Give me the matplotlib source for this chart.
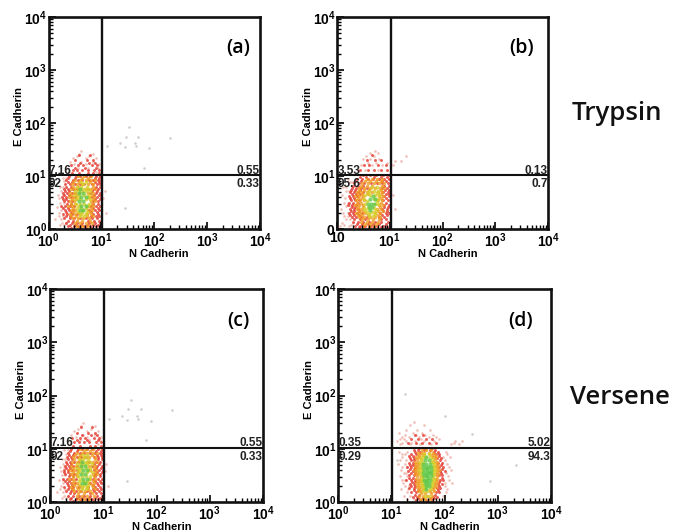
import numpy as np
import matplotlib
matplotlib.use('Agg')
import matplotlib.pyplot as plt

plt.rcParams['font.family'] = ['Liberation Sans', 'DejaVu Sans']
plt.rcParams['mathtext.fontset'] = 'custom'
plt.rcParams['mathtext.bf'] = 'Liberation Sans:bold'
plt.rcParams['mathtext.rm'] = 'Liberation Sans:bold'

# all events are log10(intensity), written as rows: (log E, [log N, ...])
AC_FRINGE = [
    (1.48, [.62]), (1.42, [.58, .84]), (1.34, [.46, .7, .9]), (1.26, [.4, .62, .84]),
    (1.16, [.34, .56, .74, .93]), (1.08, [.38, .9]), (.9, [.3, .99]), (.72, [.24, 1.06]),
    (.58, [.2, 1.03]), (.42, [.16, .25]), (.3, [.2, 1.08]), (.18, [.13, .24]), (.07, [.22, .3]),
    (1.37, [.53, .77]), (1.23, [.48, .7, .95]), (.97, [.27, .33]), (.8, [.22, .28]),
    (.65, [.18, .27]), (.5, [.22, .29]), (.35, [.24, 1.0]), (.24, [.19, .28]), (.12, [.26, .33]),
]
AC_RED = [
    (1.4, [.58, .78]), (1.3, [.5, .72, .84]), (1.2, [.42, .56, .66, .82, .92]),
    (1.12, [.46, .54, .64, .74, .86, .95]), (1.0, [.39, .52, .6, .7, .78, .9, .98]),
    (.92, [.34, .46, .56, .64, .76, .84, .94, .99]), (.84, [.32, .4, .5, .59, .68, .82, .91, .98]),
    (.76, [.3, .37, .46, .54, .74, .86, .94]), (.68, [.28, .35, .44, .51, .79, .89, .97]),
    (.6, [.26, .34, .42, .5, .82, .92, 1.0]), (.52, [.29, .37, .45, .84, .94]),
    (.44, [.24, .32, .4, .48, .8, .9, .98]), (.36, [.31, .39, .47, .76, .88, .96]),
    (.28, [.27, .35, .44, .54, .72, .84, .94]), (.2, [.3, .4, .49, .59, .7, .82, .92]),
    (.12, [.34, .44, .54, .64, .76, .88, .98]), (.05, [.37, .48, .56, .67, .79, .9, .97]),
    (1.25, [.6, .77, .88]), (1.16, [.5, .69, .9]), (1.05, [.44, .57, .75, .84, .96]),
    (.96, [.37, .5, .87, .96]), (.88, [.36, .44, .88, .95]), (.8, [.33, .42, .9, .97]),
    (.72, [.31, .39, .83, .92]), (.64, [.3, .38, .86, .95]), (.56, [.27, .34, .88, .97]),
    (.48, [.35, .43, .85, .93]), (.4, [.28, .36, .85, .93]), (.32, [.34, .42, .8, .91]),
    (.24, [.33, .41, .8, .89, .96]), (.16, [.37, .46, .75, .86, .95]),
    (.08, [.4, .5, .61, .73, .84, .94]), (.02, [.43, .59, .71, .82]),
]
AC_ORANGE = [
    (1.0, [.56, .68, .8]), (.92, [.5, .6, .7, .8, .88]), (.84, [.44, .54, .63, .74, .84]),
    (.76, [.42, .5, .6, .7, .8, .88]), (.68, [.4, .48, .58, .74, .84]), (.6, [.38, .46, .76, .86]),
    (.52, [.4, .48, .8, .88]), (.44, [.36, .44, .76, .84]), (.36, [.42, .5, .74, .82]),
    (.28, [.4, .5, .6, .7, .8]), (.2, [.46, .56, .66, .76]), (.12, [.5, .6, .7, .82]),
    (.05, [.54, .64, .74]), (.96, [.63, .75]), (.88, [.47, .57, .78]), (.8, [.46, .56, .84]),
    (.64, [.43, .52, .82]), (.56, [.44, .52, .84]), (.48, [.43, .5, .82]), (.4, [.46, .8]),
    (.32, [.46, .55, .78]), (.24, [.43, .52, .72, .84]), (.16, [.53, .63, .79]),
]
AC_YELLOW = [
    (.88, [.62, .7]), (.8, [.54, .62, .72]), (.72, [.5, .56, .64, .7, .78]),
    (.64, [.5, .58, .68, .76]), (.56, [.52, .6, .7, .78]), (.48, [.52, .6, .68, .76]),
    (.4, [.54, .62, .7]), (.32, [.56, .64, .72]), (.24, [.6, .68]), (.84, [.66]),
    (.76, [.59, .67, .75]), (.6, [.55, .74]), (.44, [.57, .73]), (.36, [.66]), (.28, [.61, .7]),
]
AC_GREEN = [
    (.76, [.6]), (.68, [.58, .66]), (.6, [.62, .7]), (.52, [.58, .66]), (.44, [.62, .7]),
    (.36, [.6, .66]),
]
AC_GRAY = [
    (1.92, [1.53]), (1.74, [1.46, 1.7]), (1.72, [2.3]), (1.62, [1.36, 1.64]),
    (1.56, [1.1, 1.66]), (1.52, [1.9]), (1.54, [1.44]), (1.16, [1.8]), (.4, [1.45]),
]

B_FRINGE = [
    (1.48, [.72]), (1.44, [.62, .78]), (1.38, [.55, .7]), (1.32, [.5, .62, .8]),
    (1.28, [1.1, 1.22]), (1.38, [1.3]), (1.2, [.46, .66, .86, 1.06]), (.95, [.2, .99]),
    (.8, [.12, .18]), (.65, [.1, 1.06]), (.5, [.14, .2]), (.38, [.08, 1.1]),
    (.25, [.14, .2]), (.12, [.1, .3]), (.05, [.06, .22]), (1.25, [.58, .74, .95]),
    (1.12, [.4, .53, .78]), (.88, [.24, .28]), (.72, [.17, .23]), (.58, [.16, .24]),
    (.44, [.17, .24]), (.3, [.12, .2]), (.18, [.17, .24]), (.08, [.14, .27]),
]
B_RED = [
    (1.4, [.66]), (1.3, [.56, .72, .84]), (1.2, [.52, .6, .78, .92]),
    (1.12, [.44, .58, .7, .84, .95]), (1.02, [.5, .62, .74, .88, .98]),
    (.94, [.38, .48, .58, .68, .8, .9, .98]), (.86, [.32, .42, .52, .64, .76, .86, .96]),
    (.78, [.28, .36, .46, .56, .86, .95]), (.7, [.24, .32, .4, .5, .88, .97]),
    (.62, [.22, .3, .38, .9, .98]), (.54, [.26, .34, .42, .88, .96]),
    (.46, [.2, .28, .36, .9, .99]), (.38, [.24, .32, .4, .86, .94]),
    (.3, [.22, .3, .38, .48, .82, .92, .98]), (.22, [.28, .36, .46, .56, .8, .9]),
    (.14, [.3, .4, .5, .6, .72, .84, .96]), (.06, [.34, .44, .54, .64, .76, .88]),
    (.98, [.44, .55, .71, .84, .94]), (.9, [.35, .45, .86, .93]), (.82, [.3, .39, .49, .9, .98]),
    (.74, [.26, .34, .43, .91, .98]), (.66, [.28, .36, .44, .93, .99]), (.58, [.24, .33, .93]),
    (.5, [.23, .31, .39, .92]), (.42, [.28, .35, .89, .97]), (.34, [.26, .33, .42, .87, .95]),
    (.26, [.25, .33, .42, .85, .94]), (.18, [.33, .43, .53, .83, .93]),
    (.1, [.37, .47, .58, .69, .8, .92]), (.03, [.41, .5, .6, .71, .83, .94]),
]
B_ORANGE = [
    (.94, [.56, .66, .76, .86]), (.86, [.48, .58, .7, .8, .9]), (.78, [.42, .52, .62, .72, .82, .9]),
    (.7, [.38, .46, .56, .66, .78, .86]), (.62, [.34, .42, .5, .8, .88]),
    (.54, [.36, .44, .52, .78, .86]), (.46, [.34, .42, .5, .8, .88]), (.38, [.38, .46, .76, .84]),
    (.3, [.36, .44, .54, .72, .82]), (.22, [.42, .52, .62, .72, .82]), (.14, [.46, .56, .66, .78]),
    (.06, [.5, .6, .7]), (.9, [.53, .63, .74, .84]), (.82, [.46, .56, .67, .86]),
    (.74, [.42, .51, .6, .84]), (.66, [.4, .47, .58, .84]), (.58, [.39, .47, .83]),
    (.5, [.38, .46, .84]), (.42, [.4, .49, .82]), (.34, [.41, .5, .78, .87]),
    (.26, [.4, .48, .58, .78]), (.18, [.48, .58, .69, .8]), (.1, [.53, .63, .74]),
]
B_YELLOW = [
    (.8, [.66, .76]), (.72, [.6, .7, .78]), (.64, [.54, .62, .72, .8]),
    (.56, [.52, .7, .78]), (.48, [.54, .72, .78]), (.4, [.52, .58, .7]),
    (.32, [.56, .64, .7]), (.24, [.6, .68]), (.68, [.58, .76]), (.52, [.56, .75]),
    (.36, [.54, .74]), (.28, [.6, .72]),
]
B_GREEN = [
    (.62, [.68]), (.56, [.62, .72]), (.48, [.58, .64, .7]), (.42, [.6, .66]), (.36, [.62]),
]

D_FRINGE = [
    (1.5, [1.42]), (1.44, [1.36, 1.62]), (1.36, [1.28, 1.48, 1.72]), (1.3, [1.14, 1.4, 1.58]),
    (1.22, [1.2, 1.34, 1.52, 1.7, 1.84]), (1.14, [1.1, 1.28, 1.44, 1.62, 1.8, 2.2, 2.32]),
    (1.08, [1.16, 1.36, 1.54, 1.74, 2.12, 2.27]), (.94, [1.14, 1.3, 2.02]), (.84, [1.2, 1.98, 2.1]),
    (.72, [1.12, 1.26, 2.04]), (.6, [1.18, 2.12]), (.48, [1.16, 1.3, 2.06]), (.36, [1.22, 2.0, 2.14]),
    (.24, [1.18, 1.32, 2.04]), (.12, [1.24, 1.36, 1.98]), (.05, [1.3, 1.42]),
    (1.26, [1.26, 1.46, 1.64, 1.78]), (1.18, [1.16, 1.24, 1.56, 1.9]), (1.11, [1.2, 1.38, 2.17]),
    (.9, [1.2, 1.26, 2.05]), (.78, [1.16, 1.28, 2.0]), (.66, [1.2, 1.3, 2.08]),
    (.54, [1.24, 1.28, 2.02]), (.42, [1.2, 1.26, 2.08]), (.3, [1.26, 1.34, 2.0]), (.18, [1.3, 2.02]),
]
D_RED = [
    (1.26, [1.44, 1.6]), (1.18, [1.38, 1.5, 1.66, 1.76]), (1.1, [1.32, 1.46, 1.58, 1.7, 1.84]),
    (.98, [1.42, 1.5, 1.62, 1.72, 1.82]), (.9, [1.38, 1.46, 1.84, 1.9]), (.82, [1.36, 1.42, 1.86, 1.93]),
    (.74, [1.34, 1.4, 1.88, 1.95]), (.66, [1.3, 1.38, 1.44, 1.9, 1.98]), (.58, [1.32, 1.4, 1.92, 2.0]),
    (.5, [1.34, 1.42, 1.9, 1.96]), (.42, [1.28, 1.38, 1.44, 1.92, 1.98]), (.34, [1.36, 1.42, 1.88, 1.95]),
    (.26, [1.34, 1.42, 1.86, 1.92]), (.18, [1.38, 1.46, 1.84, 1.9]), (.1, [1.4, 1.48, 1.78, 1.86]),
    (.04, [1.46, 1.54, 1.66, 1.76]), (.94, [1.44, 1.54, 1.8, 1.87]), (.86, [1.33, 1.4, 1.89]),
    (.78, [1.37, 1.43, 1.91]), (.7, [1.35, 1.41, 1.93]), (.62, [1.36, 1.43, 1.95]),
    (.54, [1.38, 1.44, 1.93]), (.46, [1.33, 1.41, 1.95]), (.38, [1.39, 1.45, 1.9]),
    (.3, [1.38, 1.45, 1.89]), (.22, [1.42, 1.5, 1.87]), (.14, [1.44, 1.52, 1.82]),
    (.07, [1.5, 1.6, 1.72, 1.81]), (1.02, [1.52, 1.65, 1.77]),
]
D_ORANGE = [
    (.98, [1.58, 1.66, 1.74]), (.92, [1.5, 1.56, 1.62, 1.7, 1.78]), (.84, [1.46, 1.52, 1.78, 1.84]),
    (.76, [1.44, 1.5, 1.8, 1.86]), (.68, [1.44, 1.5, 1.82, 1.88]), (.6, [1.42, 1.48, 1.84, 1.9]),
    (.52, [1.44, 1.5, 1.82, 1.88]), (.44, [1.46, 1.52, 1.82, 1.86]), (.36, [1.46, 1.52, 1.8, 1.86]),
    (.28, [1.48, 1.54, 1.78, 1.84]), (.2, [1.5, 1.56, 1.72, 1.8]), (.12, [1.52, 1.6, 1.68, 1.76]),
    (.05, [1.56, 1.64, 1.72]), (.88, [1.53, 1.6, 1.76, 1.82]), (.8, [1.48, 1.55, 1.82]),
    (.72, [1.47, 1.53, 1.85]), (.64, [1.46, 1.52, 1.86]), (.56, [1.47, 1.53, 1.86]),
    (.48, [1.49, 1.55, 1.85]), (.4, [1.5, 1.55, 1.84]), (.32, [1.51, 1.57, 1.82]),
    (.24, [1.53, 1.6, 1.79]), (.16, [1.56, 1.64, 1.74]),
]
D_YELLOW = [
    (.9, [1.62, 1.7]), (.84, [1.58, 1.64, 1.72]), (.76, [1.54, 1.6, 1.74, 1.78]),
    (.68, [1.54, 1.78]), (.6, [1.52, 1.58, 1.78, 1.82]), (.52, [1.54, 1.8]),
    (.44, [1.56, 1.6, 1.76, 1.8]), (.36, [1.56, 1.76]), (.28, [1.58, 1.64, 1.74]),
    (.2, [1.6, 1.68]), (.12, [1.64, 1.7]), (.8, [1.56, 1.76]), (.72, [1.57, 1.8]),
    (.64, [1.56, 1.8]), (.56, [1.57, 1.79]), (.48, [1.58, 1.79]), (.4, [1.59, 1.78]),
    (.32, [1.6, 1.76]), (.24, [1.63, 1.72]),
]
D_GREEN = [
    (.84, [1.66]), (.78, [1.64, 1.7]), (.72, [1.6, 1.66, 1.72]), (.66, [1.6, 1.65, 1.7, 1.74]),
    (.6, [1.62, 1.68, 1.74]), (.54, [1.6, 1.65, 1.7, 1.75]), (.48, [1.62, 1.68, 1.74]),
    (.42, [1.62, 1.67, 1.72]), (.36, [1.63, 1.7]), (.3, [1.66, 1.7]), (.24, [1.66]),
    (.63, [1.67]), (.57, [1.71]), (.51, [1.66]), (.45, [1.69]), (.39, [1.66]), (.33, [1.68]),
]
D_GRAY = [
    (2.02, [1.25]), (1.62, [2.0]), (1.27, [2.52]), (.4, [2.85]), (.7, [3.35]), (.78, [1.1]),
]

AC_LAYERS = [AC_GRAY, AC_FRINGE, AC_RED, AC_ORANGE, AC_YELLOW, AC_GREEN]
B_LAYERS = [[], B_FRINGE, B_RED, B_ORANGE, B_YELLOW, B_GREEN]
D_LAYERS = [D_GRAY, D_FRINGE, D_RED, D_ORANGE, D_YELLOW, D_GREEN]

LAYER_COLORS = ['#c9c2c0', '#eeaea4', '#e4352b', '#f09a22', '#d6cf2a', '#62c84a']
LAYER_SIZES = [3.5, 3.5, 4.5, 6.5, 7.5, 9]

PANEL_NAMES = ['(a)', '(b)', '(c)', '(d)']
PANEL_BOXES = [(48.5, 17, 260, 229), (337, 17, 548, 229), (50, 289, 263, 502), (338, 289, 551, 502)]
NAME_POS = [(.896, .854), (.877, .854), (.883, .85), (.859, .85)]
PANEL_LAYERS = [AC_LAYERS, B_LAYERS, AC_LAYERS, D_LAYERS]
UPPER_LEFT = ['7.16', '3.53', '7.16', '0.35']
LOWER_LEFT = ['92', '95.6', '92', '0.29']
UPPER_RIGHT = ['0.55', '0.13', '0.55', '5.02']
LOWER_RIGHT = ['0.33', '0.7', '0.33', '94.3']

TICKS = [1, 10, 100, 1000, 10000]
GATE = 10.5


def pow_labels():
    return [r'$\mathbf{10^{%d}}$' % i for i in range(5)]


def unpack(rows):
    xs = [10 ** lx for ly, row in rows for lx in row]
    ys = [10 ** ly for ly, row in rows for lx in row]
    return np.array(xs), np.array(ys)


fig = plt.figure(figsize=(6.75, 5.31), dpi=100)

for i, name in enumerate(PANEL_NAMES):
    left, top, right, bottom = PANEL_BOXES[i]
    ax = fig.add_axes([left / 675, 1 - bottom / 531, (right - left) / 675, (bottom - top) / 531])
    ax.set_xscale('log')
    ax.set_yscale('log')
    ax.set_xlim(1, 10000)
    ax.set_ylim(1, 10000)

    for rows, color, size in zip(PANEL_LAYERS[i], LAYER_COLORS, LAYER_SIZES):
        if rows:
            xs, ys = unpack(rows)
            ax.scatter(xs, ys, s=size, c=color, marker='o', linewidths=0, alpha=0.8)

    ax.axhline(GATE, color='#111111', lw=1.5)
    ax.axvline(GATE, color='#111111', lw=1.7)

    ax.set_xticks(TICKS)
    ax.set_yticks(TICKS)
    xlabels = pow_labels()
    ylabels = pow_labels()
    if name == '(b)':
        # the scan lost the rest of this corner label
        xlabels[0] = r'$\mathbf{10}$'
        ylabels[0] = r'$\mathbf{0}$'
    ax.set_xticklabels(xlabels, fontsize=10)
    ax.set_yticklabels(ylabels, fontsize=10)
    ax.tick_params(which='major', direction='in', length=5, width=1.2)
    ax.tick_params(which='minor', direction='in', length=3, width=1)
    ax.tick_params(axis='x', pad=1.5)
    ax.tick_params(axis='y', pad=1)
    for spine in ax.spines.values():
        spine.set_linewidth(1.9)
        spine.set_color('#111111')

    ax.set_xlabel('N Cadherin', fontsize=8, fontweight='bold')
    ax.set_ylabel('E Cadherin', fontsize=8, fontweight='bold')
    ax.xaxis.set_label_coords(.523, -.092)
    ax.yaxis.set_label_coords(-.115, .53)

    ax.text(NAME_POS[i][0], NAME_POS[i][1], name, transform=ax.transAxes, ha='center', va='center',
            fontsize=14, fontweight='semibold', family='Open Sans')

    ax.text(1.02, 12.6, UPPER_LEFT[i], ha='left', va='center', fontsize=8.5, fontweight='bold', color='#222222')
    ax.text(1.02, 7.0, LOWER_LEFT[i], ha='left', va='center', fontsize=8.5, fontweight='bold', color='#222222')
    ax.text(9800, 12.6, UPPER_RIGHT[i], ha='right', va='center', fontsize=8.5, fontweight='bold', color='#222222')
    ax.text(9800, 7.0, LOWER_RIGHT[i], ha='right', va='center', fontsize=8.5, fontweight='bold', color='#222222')

fig.text(617 / 675, 1 - 114 / 531, 'Trypsin', ha='center', va='center', fontsize=18.5,
         fontweight='semibold', family='Open Sans', color='#111111')
fig.text(620 / 675, 1 - 397 / 531, 'Versene', ha='center', va='center', fontsize=18.5,
         fontweight='semibold', family='Open Sans', color='#111111')

fig.savefig('out.png', dpi=100)
